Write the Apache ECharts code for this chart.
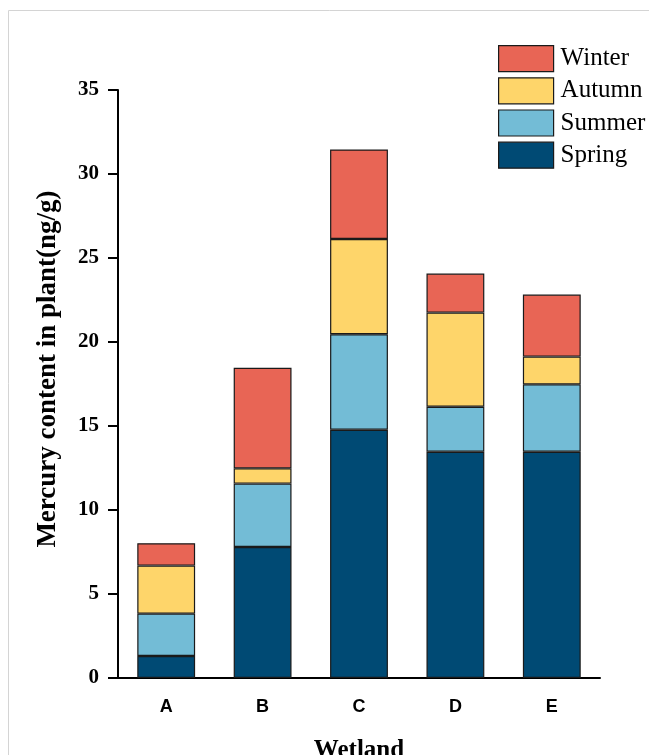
<!DOCTYPE html>
<html>
<head>
<meta charset="utf-8">
<script src="https://cdn.jsdelivr.net/npm/echarts@6/dist/echarts.min.js"></script>
<style>
html,body{margin:0;padding:0;background:#fff;}
#c{width:649px;height:755px;}
</style>
</head>
<body>
<div id="c"></div>
<script>
const categories = ['A','B','C','D','E'];
const spring = [1.31, 7.80, 14.78, 13.47, 13.47];
const summer = [2.52, 3.77, 5.68, 2.68, 4.01];
const autumn = [2.86, 0.91, 5.67, 5.60, 1.65];
const winter = [1.33, 5.99, 5.33, 2.32, 3.69];
const yTicks = {min: 0, max: 35, interval: 5};

const colors = {Spring:'#004a74', Summer:'#73bcd6', Autumn:'#fed56a', Winter:'#e86555'};
const serif = '"Liberation Serif","Times New Roman",serif';
const sans = '"Liberation Sans",Arial,sans-serif';

function mk(name, data){
  return {
    name, type:'bar', stack:'total', data, barWidth:'60%',
    itemStyle:{color:colors[name], borderColor:'#1a1a1a', borderWidth:1.2}
  };
}

const chart = echarts.init(document.getElementById('c'));
chart.setOption({
  animation:false,
  graphic:[
    {type:'rect', shape:{x:8.5, y:10.5, width:700, height:800}, style:{fill:'none', stroke:'#d4d4d4', lineWidth:1}, silent:true, z:-1},
    {type:'text', x:48, y:369, rotation:Math.PI/2, style:{text:'Mercury content in plant(ng/g)', fontFamily:serif, fontSize:27, fontWeight:'bold', fill:'#000', align:'center', verticalAlign:'middle'}}
  ],
  grid:{left:118, right:49, top:90, bottom:77, containLabel:false, outerBoundsMode:'none'},
  legend:{
    orient:'vertical', left:498, top:45, padding:0,
    data:['Winter','Autumn','Summer','Spring'],
    icon:'rect',
    itemWidth:55, itemHeight:26, itemGap:5,
    textStyle:{fontFamily:serif, fontSize:25, color:'#000', padding:[0,0,0,2]},
    itemStyle:{borderColor:'#1a1a1a', borderWidth:1.2}
  },
  xAxis:{
    type:'category', data:categories,
    name:'Wetland', nameLocation:'middle', nameGap:60,
    nameTextStyle:{fontFamily:serif, fontSize:25, fontWeight:'bold', color:'#000'},
    axisLine:{lineStyle:{color:'#000', width:2}},
    axisTick:{length:10, alignWithLabel:true, lineStyle:{color:'#000', width:2}},
    axisLabel:{margin:20, fontFamily:sans, fontSize:18, fontWeight:'bold', color:'#000'}
  },
  yAxis:{
    type:'value', min:yTicks.min, max:yTicks.max, interval:yTicks.interval,
    axisLine:{show:true, lineStyle:{color:'#000', width:2}},
    axisTick:{show:true, length:10, lineStyle:{color:'#000', width:2}},
    splitLine:{show:false},
    axisLabel:{margin:19, fontFamily:serif, fontSize:21, fontWeight:'bold', color:'#000'}
  },
  series:[mk('Spring',spring), mk('Summer',summer), mk('Autumn',autumn), mk('Winter',winter)]
});
</script>
</body>
</html>
